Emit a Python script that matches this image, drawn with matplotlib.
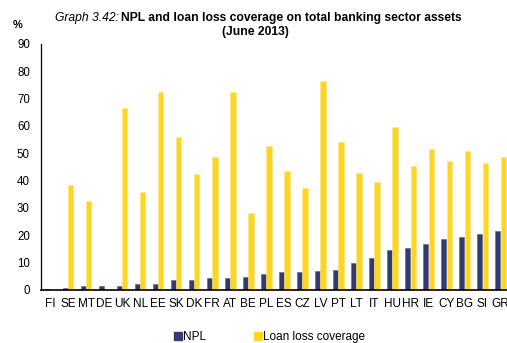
import numpy as np
import matplotlib
matplotlib.use("Agg")
import matplotlib.pyplot as plt
from matplotlib.lines import Line2D

plt.rcParams['font.family'] = ['Liberation Sans', 'DejaVu Sans']

# DATA
countries = ["FI", "SE", "MT", "DE", "UK", "NL", "EE", "SK", "DK", "FR", "AT", "BE", "PL",
             "ES", "CZ", "LV", "PT", "LT", "IT", "HU", "HR", "IE", "CY", "BG", "SI", "GR"]
npl = [0.5, 0.6, 1.6, 1.6, 1.6, 2.3, 2.3, 3.7, 3.7, 4.4, 4.4, 4.8, 5.9,
       6.6, 6.5, 7.0, 7.5, 9.8, 11.6, 14.6, 15.5, 16.8, 18.7, 19.4, 20.4, 21.6]
coverage = [np.nan, 38.5, 32.4, np.nan, 66.5, 35.8, 72.3, 56.1, 42.6, 48.7, 72.5, 28.1, 52.6,
            43.5, 37.4, 76.5, 54.2, 42.7, 39.5, 59.8, 45.4, 51.7, 47.3, 51.0, 46.3, 48.7]

navy = "#333A6E"
yellow = "#FFD520"

fig = plt.figure(figsize=(5.07, 3.43), dpi=100)
ax = fig.add_axes([41 / 507, 1 - 290 / 343, 1 - 41 / 507, (290 - 44) / 343])

x = np.arange(len(countries))
w = 0.29
ax.bar(x - 0.15, npl, w, color=navy, edgecolor="#5a5f8f", linewidth=0.4)
ax.bar(x + 0.15, coverage, w, color=yellow, edgecolor="#ffe680", linewidth=0.4)

ax.set_xlim(-0.5, 25.36)
ax.set_ylim(0, 90)
ax.set_yticks(range(0, 91, 10))
ax.set_xticks(x)
ax.set_xticklabels(countries)
ax.tick_params(axis="y", length=0, pad=8, labelsize=8.3)
ax.tick_params(axis="x", length=0, pad=6, labelsize=8.5)
for s in ["top", "right"]:
    ax.spines[s].set_visible(False)
ax.spines["left"].set_linewidth(0.9)
ax.spines["bottom"].set_linewidth(1.2)

# TITLE
fig.text(119 / 507, 1 - 18 / 343, "Graph 3.42:", style="italic", fontsize=8.7, ha="right", va="center")
fig.text(121 / 507, 1 - 18 / 343, "NPL and loan loss coverage on total banking sector assets",
         weight="bold", fontsize=8.7, ha="left", va="center")
fig.text(255 / 507, 1 - 32 / 343, "(June 2013)", weight="bold", fontsize=8.7, ha="center", va="center")
fig.text(18 / 507, 1 - 25 / 343, "%", weight="bold", fontsize=8, ha="center", va="center")

# LEGEND
handles = [Line2D([], [], marker="s", color=navy, linestyle="none", markersize=5.5),
           Line2D([], [], marker="s", color=yellow, linestyle="none", markersize=5.5)]
fig.legend(handles, ["NPL", "Loan loss coverage"], loc="center", bbox_to_anchor=(0.532, 1 - 337 / 343),
           ncol=2, frameon=False, fontsize=8.5, handlelength=0.6, handletextpad=0.1,
           columnspacing=4.1, borderpad=0)

plt.savefig("out.png", dpi=100)
